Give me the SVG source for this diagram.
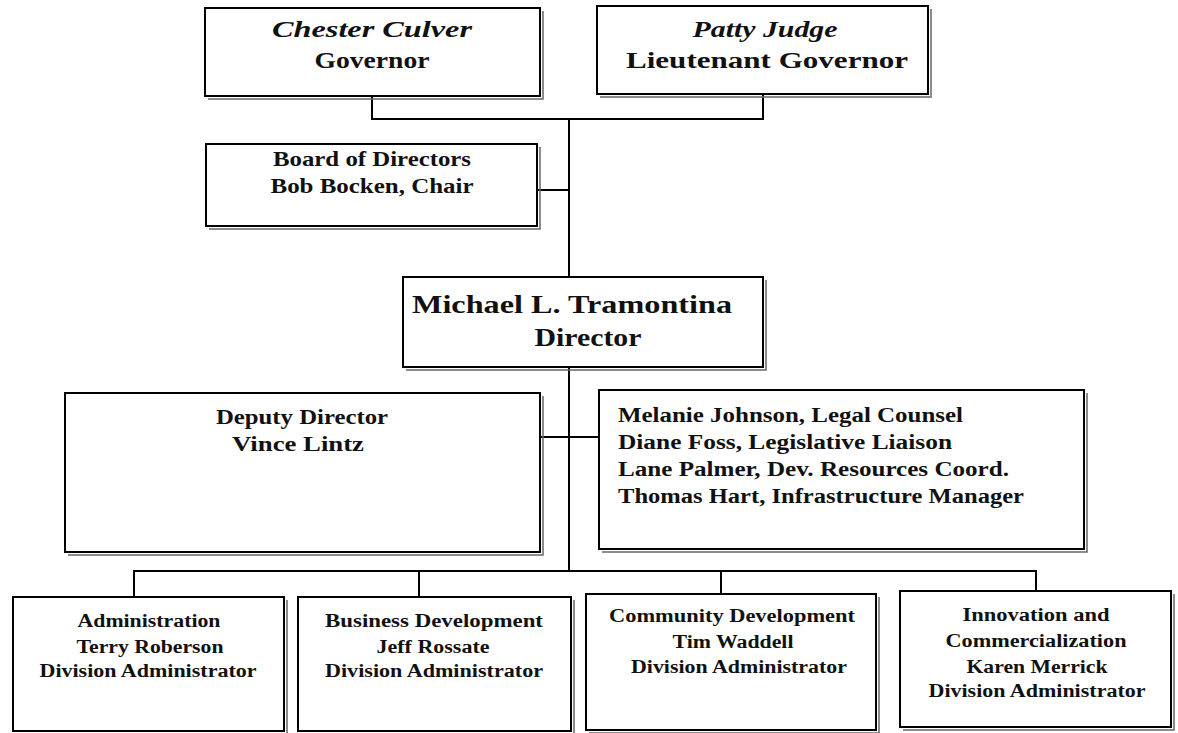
<svg xmlns="http://www.w3.org/2000/svg" width="1178" height="733" viewBox="0 0 1178 733">
<style>
.box{fill:#fff;stroke:#000;stroke-width:2}
.sh{fill:none;stroke:#666;stroke-width:1.5}
.ln{fill:none;stroke:#000;stroke-width:2}
text{font-family:"Liberation Serif","Times New Roman",serif;fill:#111;font-weight:bold}
.c{text-anchor:middle}
.it{font-style:italic}
.t23{font-size:23px}
.t21{font-size:21px}
.t24{font-size:25px}
.t20{font-size:20px}
.t18{font-size:18.5px}
</style>
<rect width="1178" height="733" fill="#fff"/>
<g id="connectors">
<path class="ln" d="M372,96 V119 H763 V94"/>
<path class="ln" d="M569,119 V277"/>
<path class="ln" d="M537,190 H569"/>
<path class="ln" d="M569,367 V571"/>
<path class="ln" d="M540,437 H599"/>
<path class="ln" d="M134,597 V571 H1036 V591"/>
<path class="ln" d="M419,571 V597"/>
<path class="ln" d="M721,571 V594"/>
</g>
<g id="governor">
<path class="sh" d="M543,11 V99 H208"/>
<rect class="box" x="205" y="8" width="335" height="88"/>
<text class="c it t23" x="372" y="37" textLength="200" lengthAdjust="spacingAndGlyphs">Chester Culver</text>
<text class="c t23" x="372" y="68" textLength="115" lengthAdjust="spacingAndGlyphs">Governor</text>
</g>
<g id="lt-governor">
<path class="sh" d="M931,9 V97 H600"/>
<rect class="box" x="597" y="6" width="331" height="88"/>
<text class="c it t23" x="765" y="37" textLength="145" lengthAdjust="spacingAndGlyphs">Patty Judge</text>
<text class="c t23" x="767" y="68" textLength="282" lengthAdjust="spacingAndGlyphs">Lieutenant Governor</text>
</g>
<g id="board">
<path class="sh" d="M540,147 V229 H209"/>
<rect class="box" x="206" y="144" width="331" height="82"/>
<text class="c t21" x="372" y="166" textLength="198" lengthAdjust="spacingAndGlyphs">Board of Directors</text>
<text class="c t21" x="372" y="193" textLength="203" lengthAdjust="spacingAndGlyphs">Bob Bocken, Chair</text>
</g>
<g id="director">
<path class="sh" d="M766,280 V370 H406"/>
<rect class="box" x="403" y="277" width="360" height="90"/>
<text class="c t24" x="572" y="313" textLength="320" lengthAdjust="spacingAndGlyphs">Michael L. Tramontina</text>
<text class="c t24" x="588" y="346" textLength="107" lengthAdjust="spacingAndGlyphs">Director</text>
</g>
<g id="deputy">
<path class="sh" d="M543,396 V555 H68"/>
<rect class="box" x="65" y="393" width="475" height="159"/>
<text class="c t20" x="302" y="424" textLength="172" lengthAdjust="spacingAndGlyphs">Deputy Director</text>
<text class="c t20" x="298" y="451" textLength="132" lengthAdjust="spacingAndGlyphs">Vince Lintz</text>
</g>
<g id="staff">
<path class="sh" d="M1087,393 V552 H602"/>
<rect class="box" x="599" y="390" width="485" height="159"/>
<text class="t20" x="618" y="422" textLength="345" lengthAdjust="spacingAndGlyphs">Melanie Johnson, Legal Counsel</text>
<text class="t20" x="618" y="449" textLength="334" lengthAdjust="spacingAndGlyphs">Diane Foss, Legislative Liaison</text>
<text class="t20" x="618" y="476" textLength="391" lengthAdjust="spacingAndGlyphs">Lane Palmer, Dev. Resources Coord.</text>
<text class="t20" x="618" y="503" textLength="406" lengthAdjust="spacingAndGlyphs">Thomas Hart, Infrastructure Manager</text>
</g>
<g id="administration">
<path class="sh" d="M287,600 V734 H16"/>
<rect class="box" x="13" y="597" width="271" height="134"/>
<text class="c t18" x="149" y="627" textLength="143" lengthAdjust="spacingAndGlyphs">Administration</text>
<text class="c t18" x="150" y="653" textLength="147" lengthAdjust="spacingAndGlyphs">Terry Roberson</text>
<text class="c t18" x="148" y="677" textLength="217" lengthAdjust="spacingAndGlyphs">Division Administrator</text>
</g>
<g id="business-development">
<path class="sh" d="M574,600 V734 H301"/>
<rect class="box" x="298" y="597" width="273" height="134"/>
<text class="c t18" x="434" y="627" textLength="218" lengthAdjust="spacingAndGlyphs">Business Development</text>
<text class="c t18" x="433" y="653" textLength="113" lengthAdjust="spacingAndGlyphs">Jeff Rossate</text>
<text class="c t18" x="434" y="677" textLength="218" lengthAdjust="spacingAndGlyphs">Division Administrator</text>
</g>
<g id="community-development">
<path class="sh" d="M879,597 V733 H589"/>
<rect class="box" x="586" y="594" width="290" height="136"/>
<text class="c t18" x="732" y="622" textLength="246" lengthAdjust="spacingAndGlyphs">Community Development</text>
<text class="c t18" x="733" y="648" textLength="121" lengthAdjust="spacingAndGlyphs">Tim Waddell</text>
<text class="c t18" x="739" y="673" textLength="216" lengthAdjust="spacingAndGlyphs">Division Administrator</text>
</g>
<g id="innovation">
<path class="sh" d="M1174,594 V730 H903"/>
<rect class="box" x="900" y="591" width="271" height="136"/>
<text class="c t18" x="1036" y="621" textLength="147" lengthAdjust="spacingAndGlyphs">Innovation and</text>
<text class="c t18" x="1036" y="647" textLength="181" lengthAdjust="spacingAndGlyphs">Commercialization</text>
<text class="c t18" x="1037" y="673" textLength="141" lengthAdjust="spacingAndGlyphs">Karen Merrick</text>
<text class="c t18" x="1037" y="697" textLength="217" lengthAdjust="spacingAndGlyphs">Division Administrator</text>
</g>
</svg>
